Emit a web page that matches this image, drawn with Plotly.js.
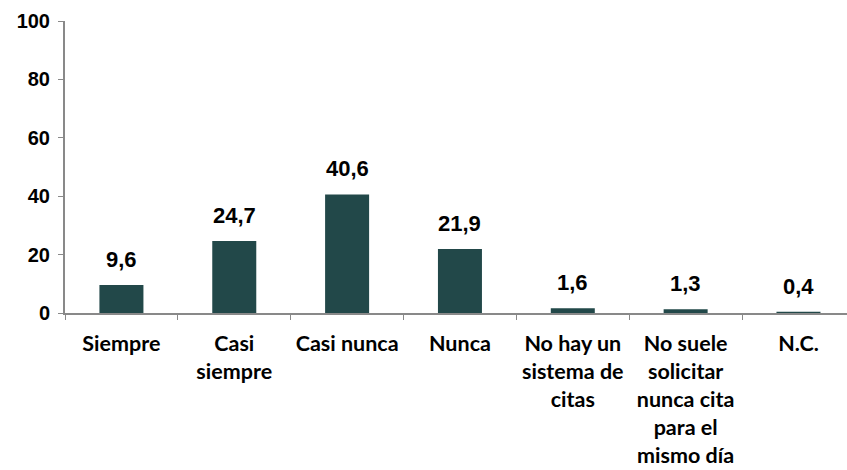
<!DOCTYPE html>
<html>
<head>
<meta charset="utf-8">
<script src="https://cdn.plot.ly/plotly-3.0.1.min.js"></script>
<style>html,body{margin:0;padding:0;background:#fff;}#chart{width:847px;height:470px;}</style>
</head>
<body>
<div id="chart"></div>
<script>
const categories = ["Siempre", "Casi<br>siempre", "Casi nunca", "Nunca", "No hay un<br>sistema de<br>citas", "No suele<br>solicitar<br>nunca cita<br>para el<br>mismo día", "N.C."];
const values = [9.6, 24.7, 40.6, 21.9, 1.6, 1.3, 0.4];
const yTicks = [0, 20, 40, 60, 80, 100];

const fmt = v => v.toFixed(1).replace('.', ',');

const trace = {
  type: 'bar',
  x: categories,
  y: values,
  width: 0.39,
  marker: {color: '#224849', line: {width: 0}},
  hoverinfo: 'none'
};

const annotations = categories.map((c, i) => ({
  x: c, y: values[i], xref: 'x', yref: 'y',
  text: fmt(values[i]), showarrow: false,
  yanchor: 'bottom', yshift: 11,
  font: {family: 'Liberation Sans, Arial, sans-serif', size: 22, color: '#000', weight: 'bold'}
}));

const layout = {
  width: 847, height: 470,
  margin: {l: 65, r: 0, t: 21, b: 157},
  paper_bgcolor: '#fff', plot_bgcolor: '#fff',
  showlegend: false,
  xaxis: {
    type: 'category',
    range: [-0.5, 6.43],
    showline: true, linecolor: '#898989', linewidth: 2, layer: 'above traces',
    ticks: 'outside', tickson: 'boundaries', ticklen: 5, tickwidth: 1, tickcolor: '#898989',
    showgrid: false, zeroline: false,
    tickangle: 0, automargin: false,
    ticklabelstandoff: 10,
    tickfont: {family: 'Lato, Open Sans, sans-serif', size: 21.5, color: '#000', weight: 'bold'}
  },
  yaxis: {
    range: [0, 100],
    tickvals: yTicks, ticktext: yTicks.map(String),
    showline: true, linecolor: '#898989', linewidth: 2,
    ticks: 'outside', ticklen: 5, tickwidth: 1, tickcolor: '#898989',
    showgrid: false, zeroline: false,
    ticklabelstandoff: 4, automargin: false,
    tickfont: {family: 'Liberation Sans, Arial, sans-serif', size: 20, color: '#000', weight: 'bold'}
  },
  annotations: annotations
};

Plotly.newPlot('chart', [trace], layout, {displayModeBar: false, staticPlot: true});
</script>
</body>
</html>
